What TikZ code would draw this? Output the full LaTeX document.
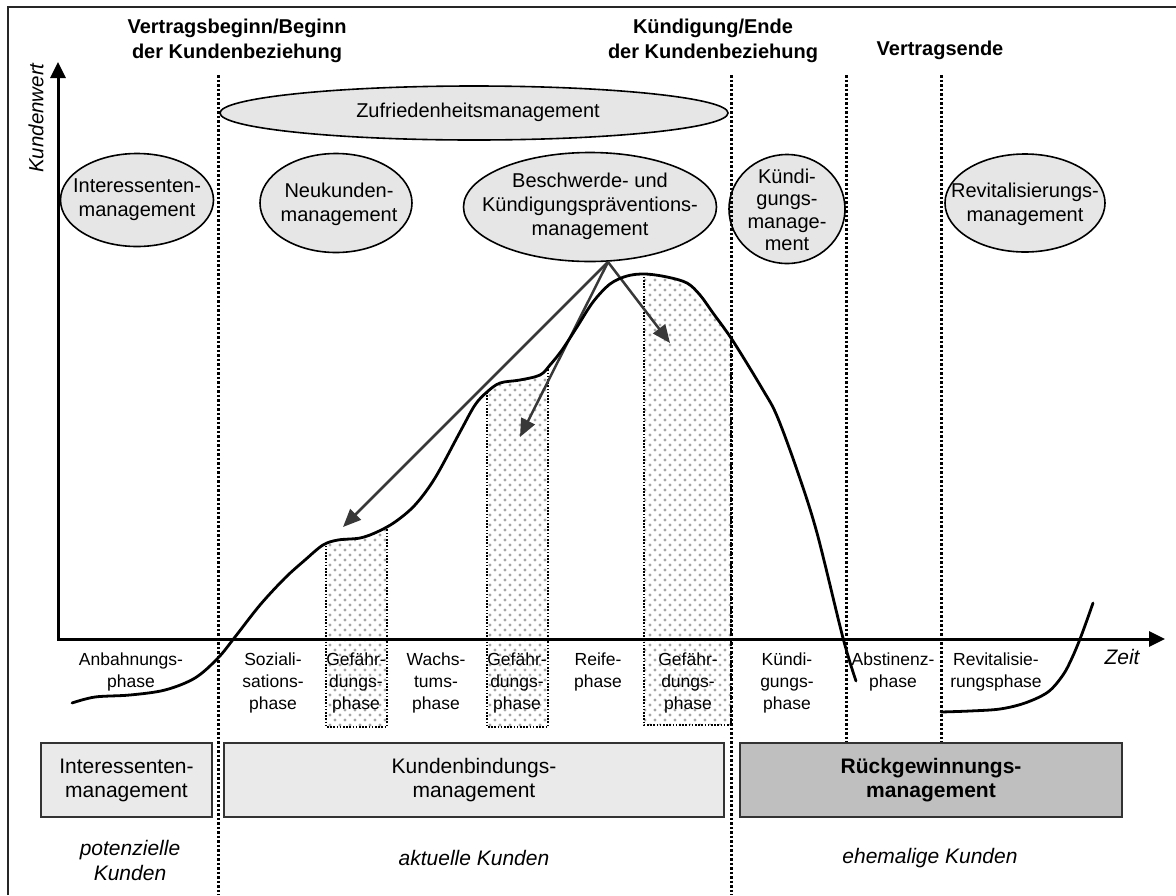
\documentclass[tikz,border=0pt]{standalone}
\usepackage{fontspec}
\setmainfont{Liberation Sans}
\usetikzlibrary{arrows.meta,shapes.geometric,patterns}

% light dot raster for the endangerment phases
\pgfdeclarepatternformonly{softdots}{\pgfqpoint{-2pt}{-2pt}}{\pgfqpoint{8pt}{8pt}}{\pgfqpoint{10pt}{10pt}}{%
  \pgfpathcircle{\pgfqpoint{0pt}{0pt}}{1.6pt}%
  \pgfpathcircle{\pgfqpoint{5pt}{5pt}}{1.6pt}%
  \pgfusepath{fill}}

\definecolor{ellfill}{HTML}{E6E6E6}
\definecolor{boxfill}{HTML}{EAEAEA}
\definecolor{darkfill}{HTML}{BFBFBF}
\definecolor{arrowgray}{HTML}{383838}

% customer value over the relationship life cycle
\def\kwpath{plot[smooth,tension=0.55] coordinates {
  (72,703) (95,697) (130,695) (165,690) (195,678) (218,658) (235,637)
  (260,605) (285,578) (305,560) (323,545) (338,540) (360,538) (377,532)
  (395,522) (415,505) (435,478) (460,432) (475,405) (487,392) (500,383)
  (520,380) (540,375) (550,365) (562,350) (577,327) (593,302) (610,284)
  (627,276) (645,274) (667,277) (687,283) (700,295) (713,313) (733,341)
  (763,390) (777,416) (797,470) (817,533) (843,638) (856,681)}}

\begin{document}
\begin{tikzpicture}[x=1pt,y=-1pt,
  ell/.style={ellipse, draw=black, line width=1.6pt, fill=ellfill, inner sep=0pt},
  elltext/.style={align=center, font=\fontsize{20}{24}\selectfont, inner sep=0pt},
  hdr/.style={align=center, font=\fontsize{20}{25}\selectfont\bfseries, inner sep=0pt},
  phase/.style={align=center, font=\fontsize{17.5}{22}\selectfont, inner sep=0pt},
  mgmtbox/.style={draw=black!80, line width=1.6pt, fill=boxfill, align=center,
    inner sep=0pt, minimum height=74pt, font=\fontsize{21}{24}\selectfont},
  group/.style={align=center, font=\fontsize{21}{25}\selectfont\itshape, inner sep=0pt},
  divider/.style={line width=3pt, dash pattern=on 2.5pt off 2pt},
  gapbox/.style={line width=1.6pt, dash pattern=on 1.6pt off 1.6pt},
  axis/.style={line width=3pt, line join=miter,
    {Triangle[length=16pt,width=15pt]}-{Triangle[length=16pt,width=15pt]}},
  hint/.style={line width=2.5pt, draw=arrowgray,
    -{Triangle[length=18pt,width=15pt,fill=arrowgray]}},
  curve/.style={line width=2.8pt, line cap=round, line join=round},
]
\useasboundingbox (0,0) rectangle (1176,895);

% outer frame
\draw[line width=1.5pt, black!85] (8,895) -- (8,7) -- (1176,7);

% milestones
\node[hdr] (start) at (237,41) {Vertragsbeginn/Beginn\\der Kundenbeziehung};
\node[hdr] (cancel) at (713,41) {Kündigung/Ende\\der Kundenbeziehung};
\node[hdr] (end) at (940,50) {Vertragsende};

% management tasks
\node[ell, minimum width=508pt, minimum height=54pt] (zufr) at (474,113) {};
\node[elltext] (zufrT) at (478,112) {Zufriedenheitsmanagement};

\node[ell, minimum width=153pt, minimum height=93pt] (inter) at (137,200) {};
\node[elltext] (interT) at (inter) {Interessenten-\\management};

\node[ell, minimum width=152pt, minimum height=99pt] (neu) at (336,203) {};
\node[elltext] (neuT) at (339,204) {Neukunden-\\management};

\node[ell, minimum width=253pt, minimum height=109pt] (bcpm) at (590,207) {};
\node[elltext] (bcpmT) at (590,206) {Beschwerde- und\\Kündigungspräventions-\\management};

\node[ell, minimum width=116pt, minimum height=109pt] (kuend) at (787,209) {};
\node[elltext, font=\fontsize{20}{22.5}\selectfont] (kuendT) at (787,210) {Kündi-\\gungs-\\manage-\\ment};

\node[ell, minimum width=160pt, minimum height=98pt] (revit) at (1025,203) {};
\node[elltext] (revitT) at (1025,204) {Revitalisierungs-\\management};

% endangerment phases below the curve
\begin{scope}
  \clip \kwpath -- (856,900) -- (72,900) -- cycle;
  \fill[pattern=softdots, pattern color=gray!70]
    (326,200) rectangle (387,727)
    (487,200) rectangle (548,727)
    (644,200) rectangle (731,725);
  \draw[gapbox] (326,200) rectangle (387,727);
  \draw[gapbox] (487,200) rectangle (548,727);
  \draw[gapbox] (644,200) rectangle (731,725);
\end{scope}

% phase boundaries
\draw[divider] (218,75) -- (218,895);
\draw[divider] (731,75) -- (731,895);
\draw[divider] (846,75) -- (846,743);
\draw[divider] (941,75) -- (941,743);

% axes
\coordinate (origin) at (58,639);
\coordinate (ytip) at (58,62);
\coordinate (xtip) at (1165,639);
\draw[axis] (ytip) -- (origin) -- (xtip);
\node[font=\fontsize{20.5}{24}\selectfont\itshape, rotate=90] (ylab) at (36,118) {Kundenwert};
\node[font=\fontsize{21}{24}\selectfont\itshape] (xlab) at (1122,657) {Zeit};

% arrows from the complaint management
\coordinate (src) at (608,262);
\coordinate (t1) at (343,527);
\coordinate (t2) at (520,437);
\coordinate (t3) at (670,343);
\draw[hint] (src) -- (t1);
\draw[hint] (src) -- (t2);
\draw[hint] (src) -- (t3);

% value curves
\draw[curve] \kwpath;
\draw[curve] plot[smooth,tension=0.55] coordinates {
  (941,712) (970,711) (1000,709) (1025,703) (1048,692) (1063,675)
  (1072,658) (1080,639) (1087,620) (1093,603)};

% phases
\node[phase] (p1) at (131,672) {Anbahnungs-\\phase};
\node[phase] (p2) at (273,683) {Soziali-\\sations-\\phase};
\node[phase] (p3) at (356,683) {Gefähr-\\dungs-\\phase};
\node[phase] (p4) at (436,683) {Wachs-\\tums-\\phase};
\node[phase] (p5) at (517,683) {Gefähr-\\dungs-\\phase};
\node[phase] (p6) at (598,672) {Reife-\\phase};
\node[phase] (p7) at (688,683) {Gefähr-\\dungs-\\phase};
\node[phase] (p8) at (787,683) {Kündi-\\gungs-\\phase};
\node[phase] (p9) at (893,672) {Abstinenz-\\phase};
\node[phase] (p10) at (996,672) {Revitalisie-\\rungsphase};

% management areas
\node[mgmtbox, minimum width=171pt] (bInter) at (126.5,780) {Interessenten-\\management};
\node[mgmtbox, minimum width=500pt] (bBind) at (474,780) {Kundenbindungs-\\management};
\node[mgmtbox, minimum width=382pt, fill=darkfill, font=\fontsize{21}{24}\selectfont\bfseries] (bRueck) at (931,780) {Rückgewinnungs-\\management};

% customer groups
\node[group] (g1) at (130,860) {potenzielle\\Kunden};
\node[group] (g2) at (474,858) {aktuelle Kunden};
\node[group] (g3) at (930,858) {ehemalige Kunden};
\end{tikzpicture}
\end{document}
